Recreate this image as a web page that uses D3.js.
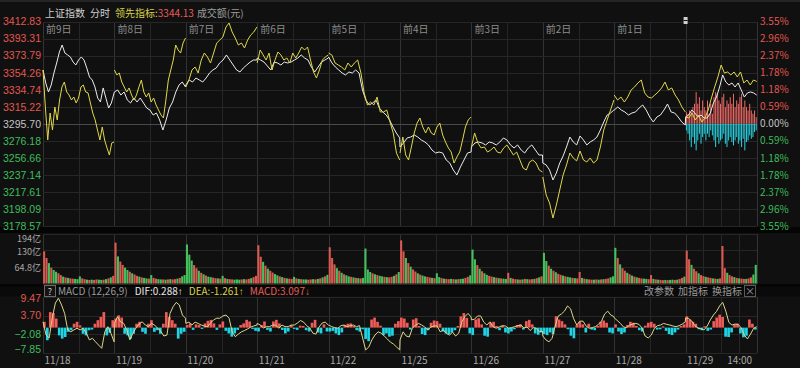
<!DOCTYPE html>
<html>
  <head>
    <meta charset="UTF-8" />
    <script src="https://d3js.org/d3.v7.min.js"></script>
    <style>
      body { margin: 0; background: #0f0f0f; }
      svg text { font-family: "Noto Sans CJK SC", "Noto Sans", sans-serif; }
      .arrow, .num { font-family: "Liberation Sans", "DejaVu Sans", sans-serif; }
    </style>
  </head>
  <body>
    <div id="chart"></div>

    <script>
      // ---- data ----
      const dayDates = ["11/18", "11/19", "11/20", "11/21", "11/22", "11/25", "11/26", "11/27", "11/28", "11/29"];
      const dayTags = ["前9日", "前8日", "前7日", "前6日", "前5日", "前4日", "前3日", "前2日", "前1日"];
      const clockTicks = ["14:00"];
      const prevClose = 3295.7;
      const leadLast = 3344.13;
      const priceTicks = [3412.83, 3393.31, 3373.79, 3354.26, 3334.74, 3315.22, 3295.70, 3276.18, 3256.66, 3237.14, 3217.61, 3198.09, 3178.57];
      const volTicks = [194, 130, 64.8];
      const macdTicks = [9.47, 3.70, -2.08, -7.85];
      const macdInfo = { dif: "0.288", dea: "-1.261", macd: "3.097" };

      // 上证指数 (white line), one array per trading day
      const indexByDay = [
        [3357.3,3342.4,3332.1,3340.1,3353.8,3365.3,3377.9,3385.9,3376.7,3374.5,3372.2,3366.4,3363.0,3368.7,3372.2,3368.7,3359.6,3349.3,3345.8,3337.8,3325.2,3320.6,3336.7,3325.2,3313.7,3319.5,3331.0],
        [3332.1,3334.4,3328.6,3332.1,3322.9,3319.5,3325.2,3320.6,3325.2,3319.5,3313.7,3311.4,3305.7,3308.0,3300.0,3288.5,3300.0,3313.7,3320.6,3332.1,3340.1,3343.5,3337.8],
        [3340.1,3345.8,3343.5,3348.1,3345.8,3343.5,3348.1,3353.8,3357.3,3359.6,3365.3,3368.7,3374.5,3368.7,3363.0,3357.3,3355.0,3359.6,3363.0,3366.4,3368.7,3368.7],
        [3371.0,3368.7,3366.4,3361.9,3357.3,3366.4,3365.3,3363.0,3366.4,3365.3,3366.4,3368.7,3371.0,3374.5,3371.0,3368.7,3360.7,3355.0,3360.7,3366.4,3368.7,3371.0],
        [3372.2,3365.3,3360.7,3357.3,3353.8,3351.6,3355.0,3353.8,3357.3,3353.8,3334.4,3322.9,3317.2,3319.5,3322.9,3313.7,3309.2,3305.7,3300.0,3292.0,3285.1,3279.4],
        [3269.1,3273.7,3279.4,3280.5,3282.8,3280.5,3277.1,3274.8,3271.4,3265.6,3262.2,3263.3,3262.2,3254.2,3250.7,3242.7,3237.0,3246.2,3254.2,3262.2,3263.3],
        [3269.1,3273.7,3274.8,3273.7,3271.4,3274.8,3273.7,3271.4,3274.8,3279.4,3277.1,3271.4,3268.0,3271.4,3265.6,3262.2,3268.0,3271.4,3265.6,3259.9,3259.9],
        [3250.7,3248.5,3242.7,3231.3,3239.3,3250.7,3258.8,3269.1,3280.5,3274.8,3271.4,3281.7,3277.1,3271.4,3274.8,3277.1,3280.5,3288.5,3297.7,3305.7,3308.0,3311.4],
        [3311.4,3314.9,3311.4,3309.2,3305.7,3308.0,3309.2,3313.7,3317.2,3311.4,3303.4,3297.7,3303.4,3305.7,3311.4,3318.3,3309.2,3308.0,3303.4,3297.7,3294.3],
        [3303.4,3305.7,3311.4,3308.0,3303.4,3305.7,3302.3,3302.3,3308.0,3319.5,3326.3,3337.8,3351.6,3343.5,3340.1,3342.4,3337.8,3342.4,3334.4,3326.3,3331.0,3332.1,3331.0,3328.6]
      ];

      // 领先指标 (yellow line), restarts every day
      const leadByDay = [
        [3357.3,3314.9,3277.1,3308.0,3288.5,3314.9,3300.0,3322.9,3337.8,3343.5,3332.1,3328.6,3322.9,3326.3,3319.5,3325.2,3337.8,3340.1,3332.1,3331.0,3319.5,3308.0,3300.0,3288.5,3277.1,3292.0,3277.1,3268.0,3259.9,3273.7,3274.8],
        [3357.3,3351.6,3353.8,3343.5,3337.8,3332.1,3336.7,3328.6,3322.9,3328.6,3337.8,3345.8,3332.1,3326.3,3331.0,3320.6,3325.2,3317.2,3311.4,3305.7,3302.3,3322.9,3345.8,3357.3,3368.7,3385.9,3380.2,3376.7,3388.2,3393.9],
        [3337.8,3345.8,3357.3,3360.7,3353.8,3368.7,3376.7,3372.2,3365.3,3376.7,3388.2,3391.6,3395.1,3406.5,3411.1,3400.8,3393.9,3385.9,3388.2,3382.5,3391.6,3397.4,3400.8,3406.5],
        [3365.3,3380.2,3374.5,3368.7,3376.7,3357.3,3368.7,3377.9,3374.5,3368.7,3371.0,3365.3,3376.7,3371.0,3376.7,3383.6,3380.2,3383.6,3368.7,3355.0,3348.1,3357.3,3368.7,3372.2,3374.5],
        [3376.7,3374.5,3365.3,3363.0,3360.7,3357.3,3365.3,3360.7,3365.3,3368.7,3353.8,3331.0,3317.2,3320.6,3317.2,3326.3,3309.2,3309.2,3311.4,3297.7,3285.1,3262.2,3254.2],
        [3262.2,3280.5,3259.9,3254.2,3269.1,3285.1,3296.5,3302.3,3292.0,3285.1,3292.0,3285.1,3282.8,3292.0,3296.5,3282.8,3274.8,3268.0,3263.3,3250.7,3257.6,3263.3,3277.1,3292.0,3300.0,3303.4],
        [3269.1,3285.1,3273.7,3268.0,3269.1,3263.3,3265.6,3269.1,3263.3,3262.2,3268.0,3271.4,3265.6,3259.9,3263.3,3254.2,3245.0,3242.7,3251.9,3254.2,3250.7,3242.7,3240.4],
        [3234.7,3214.1,3204.9,3187.7,3202.6,3219.8,3237.0,3248.5,3262.2,3256.5,3253.1,3264.5,3254.2,3251.9,3256.5,3250.7,3254.2,3269.1,3288.5,3300.0,3311.4,3322.9],
        [3328.6,3322.9,3326.3,3320.6,3326.3,3334.4,3337.8,3342.4,3345.8,3331.0,3326.3,3325.2,3328.6,3332.1,3336.7,3343.5,3334.4,3336.7,3328.6,3322.9,3314.9,3309.2],
        [3303.4,3302.3,3308.0,3300.0,3305.7,3297.7,3302.3,3311.4,3325.2,3337.8,3349.3,3363.0,3353.8,3355.0,3351.6,3355.0,3349.3,3355.0,3342.4,3345.8,3340.1,3345.8,3344.13]
      ];

      // 成交额 (亿), 30 bars per day, and their colours (r = up, g = down)
      const volumeByDay = [
        [126,100,80,62,53,46,40,33,27,24,22,20,19,18,17,28,20,17,15,14,15,14,16,15,14,15,17,20,24,30],
        [160,106,86,73,62,53,46,40,35,30,27,24,22,20,19,33,22,19,17,16,16,15,16,17,16,17,19,22,28,33],
        [153,113,90,72,60,50,42,36,31,27,25,23,21,20,19,30,21,18,17,16,15,16,15,16,17,16,18,21,25,30],
        [150,105,85,70,58,50,43,37,32,28,25,22,20,19,18,26,20,18,17,16,16,15,16,17,16,18,20,24,28,34],
        [142,100,75,60,50,42,36,32,28,26,24,22,21,20,22,137,55,45,40,36,33,30,28,26,25,24,26,30,36,45],
        [169,126,100,80,66,55,47,40,35,31,28,26,24,22,21,40,25,21,19,18,17,18,17,16,17,18,19,22,26,32],
        [133,95,72,58,48,40,34,30,27,25,23,21,20,19,18,42,22,19,17,16,15,16,18,17,16,17,18,21,24,28],
        [120,88,70,58,50,44,38,34,31,28,26,24,22,21,20,45,22,19,17,16,15,15,16,15,16,17,18,20,24,28],
        [140,100,75,60,50,42,36,31,27,24,22,20,19,18,17,33,18,16,15,14,13,14,13,14,15,14,15,18,22,27],
        [129,95,73,58,48,40,33,29,26,24,22,20,19,18,20,147,60,42,33,28,25,22,20,19,18,18,20,24,35,73]
      ];
      const volumeColorByDay = [
        "rrgrggrrgrgrrgggrrgrgrrggrgrgr",
        "rgrrggrgrrgrggrgrrggrgrgrrgrgg",
        "gggrrgrgrggrrgrgrgrrgggrgrrgrr",
        "rrgrgrrggrgrgrrgrgrggrrgrgrgrg",
        "rrrgrgrggrgrgrggggrgrggrgrrgrg",
        "rrgrgrrgrggrrgrggrgrrgrgrggrrg",
        "ggrgrggrrgrgrggrgrrgrgrgrrgrgr",
        "ggrgrgrrgrggrgrrgrgrrgrgrgrrgg",
        "grgrrgrgrgrrggrrgrgrrgrggrgrrg",
        "rrgrrgrrgrrgrgrrrgrrgrgrrgrrgg"
      ];

      // today's buy / sell strength bars around the 0% line
      const buyForce = [35,30,40,35,50,60,95,60,80,40,70,50,40,70,30,60,30,80,95,90,70,60,80,90,50,70,60,80,60,90,50,70,60,80,90,50,70,50,40,60,40,30,40,20];
      const sellForce = [20,30,50,70,40,60,80,50,30,60,40,30,50,30,40,20,35,50,70,40,60,50,45,30,60,70,50,40,55,65,50,40,60,50,70,45,80,55,50,35,45,40,25,20];

      // MACD (12,26,9): line and histogram, 24 values per day
      const macdLineByDay = [
        [1.8,-2.3,-3.2,3.0,7.6,9.1,7.0,4.4,-0.7,-1.3,-0.7,-0.2,-0.7,-0.2,-1.7,-3.8,-3.3,-4.4,-5.4,-6.4,-1.3,0.3,-1.8,-4.4],
        [1.3,3.4,1.8,1.3,-0.7,-3.8,-1.7,-0.1,1.1,1.8,0.8,0.3,1.3,0.8,-0.2,-1.1,-2.6,-2.3,4.4,6.5,7.8,7.0,3.9,2.9],
        [1.3,1.7,0.8,1.7,1.3,0.8,0.5,0.3,1.4,2.4,2.9,2.9,3.6,3.9,2.9,-1.3,-2.8,-2.0,-1.3,-0.9,-0.4,0.2,0.5,0.8],
        [1.3,0.8,-0.1,0.3,0.3,0.8,0.8,-0.2,0.8,0.3,0.3,0.8,0.8,1.4,2.2,1.7,0.6,-0.1,-1.7,-2.0,0.2,1.4,1.7,0.8],
        [0.8,0.3,0.0,-0.2,0.6,0.8,0.3,0.6,0.8,0.3,0.6,-3.2,-6.9,-6.0,-3.8,-2.3,-1.3,-1.7,-2.6,-3.5,-4.5,-5.1,-6.0,-6.9],
        [-3.8,-1.3,-2.6,-2.9,-0.2,0.8,1.3,0.8,0.2,-0.7,0.2,0.5,0.5,-1.3,-0.7,-1.8,-2.3,-1.4,-2.6,-1.7,1.8,3.4,4.4,3.3],
        [2.4,2.6,3.6,3.6,1.7,0.8,1.8,0.3,-0.2,0.2,0.6,0.5,-0.2,0.0,0.3,0.6,0.8,-0.1,0.2,-0.9,0.0,-0.2,-1.3,-1.1],
        [-2.6,-3.8,-4.4,-3.3,0.5,3.6,4.2,5.1,6.7,5.8,2.7,0.8,2.0,2.0,0.5,-0.2,0.0,0.3,1.0,2.0,4.2,5.1,3.9,3.4],
        [3.0,2.2,1.3,0.2,0.0,0.8,1.1,1.3,1.0,-0.1,-2.6,-3.2,-2.3,-0.2,0.6,0.8,1.3,1.0,0.8,0.5,0.3,0.6,1.1,1.8],
        [3.0,2.8,2.0,0.6,-0.1,-0.4,-0.7,0.5,2.4,3.9,5.0,6.7,7.8,5.1,1.6,0.8,1.1,1.0,-0.1,-2.3,-3.5,-2.0,-0.2,0.288]
      ];
      const macdBarByDay = [
        [1.8,-3.9,4.8,4.5,2.8,-2.4,-3.4,-2.9,-1.3,-0.8,1.2,1.8,0.7,-1.9,-2.4,-0.8,-0.6,1.2,2.3,3.3,4.8,-2.4,-1.6,2.3],
        [2.8,3.8,3.1,-1.9,-2.4,-3.4,-1.9,1.2,1.8,-1.3,-1.9,1.2,2.3,-1.3,-0.8,-1.9,1.2,4.8,3.3,2.3,1.2,-3.4,-1.9,-1.3],
        [0.8,1.3,-0.7,1.0,0.8,-0.4,1.3,2.1,2.4,1.3,-0.7,1.0,1.9,-1.0,-1.8,-2.8,-1.8,-0.7,0.8,1.3,2.4,1.9,-0.4,-1.0],
        [-1.2,0.8,1.9,-0.7,-1.2,1.9,2.4,1.3,-0.7,-1.8,-1.2,0.8,-0.4,-0.7,0.6,0.5,-0.8,-1.2,1.5,2.4,-1.5,-1.8,1.0,-1.2],
        [-1.2,-1.0,-1.8,-2.3,-1.5,0.8,1.2,1.3,0.5,-0.8,-1.2,-0.5,-3.5,-4.2,2.5,3.1,1.8,0.6,-2.3,-1.8,-2.8,-2.5,1.2,2.0],
        [3.1,2.8,1.5,-0.6,2.5,2.9,0.5,-2.0,-2.3,-0.8,1.5,2.2,2.0,1.2,-1.2,-1.8,-2.0,-1.5,-0.8,0.5,3.5,4.5,3.0,-1.8],
        [-2.3,2.5,2.9,1.0,-2.5,-2.8,1.5,1.8,0.5,-0.8,0.6,-1.5,-1.8,-1.2,-0.5,0.8,1.0,-0.6,2.0,2.4,1.0,-1.8,-2.2,-1.5],
        [-2.0,-2.3,-1.5,-2.0,3.5,2.5,2.0,1.0,-0.5,-2.5,-3.3,0.8,1.8,1.0,-1.5,1.2,-0.6,-0.8,0.5,1.8,2.2,1.5,-1.5,-1.8],
        [1.0,-1.2,-2.0,-1.5,0.8,1.8,1.5,0.5,-0.8,-1.2,0.6,1.5,1.8,1.2,-0.6,-0.5,0.4,-1.0,-2.0,-2.3,-1.5,-0.6,0.5,1.0],
        [3.5,2.5,1.8,1.2,-0.5,-0.8,0.4,-1.0,-0.6,2.0,3.1,4.0,3.3,-2.8,-2.9,-1.5,1.0,1.2,-1.8,-3.0,-2.5,2.5,1.2,-0.6]
      ];

      // ---- layout ----
      const W = 800, H = 368;
      const left = 43, right = 757;
      const mainTop = 21.5, mainBot = 226;
      const volTop = 234, volBot = 283.5;
      const macdTop = 297, macdBot = 353;
      const perDay = 240; // trading minutes
      const RED = "#e2574f", GREEN = "#3fbd5c", GRAY = "#c4c4c4", DIM = "#8c8c8c";
      const GRID = "#262626", GRID2 = "#333333";

      function tradeMinute(hhmm) {
        var p = hhmm.split(":").map(Number), t = p[0] * 60 + p[1];
        return t <= 690 ? t - 570 : t - 780 + 120;
      }
      function spread(byDay, gap) {
        var out = [];
        byDay.forEach(function (vals, d) {
          vals.forEach(function (v, i) {
            out.push({ t: d * perDay + (i * (perDay - gap)) / (vals.length - 1), v: v, day: d, i: i });
          });
        });
        return out;
      }
      function slots(byDay) {
        var out = [];
        byDay.forEach(function (vals, d) {
          var step = perDay / vals.length;
          vals.forEach(function (v, i) {
            out.push({ t: d * perDay + (i + 0.5) * step, step: step, v: v, day: d, i: i });
          });
        });
        return out;
      }

      const nDays = dayDates.length;
      const x = d3.scaleLinear().domain([0, nDays * perDay]).range([left, right]);
      const y = d3.scaleLinear().domain([d3.min(priceTicks), d3.max(priceTicks)]).range([mainBot, mainTop]);
      const yVol = d3.scaleLinear().domain([0, volTicks[0]]).range([volBot, volTop]);
      const yMacd = d3.scaleLinear().domain([d3.min(macdTicks), d3.max(macdTicks)]).range([macdBot, macdTop]);
      const force = d3.scaleLinear().domain([0, 100]).range([0, 33.3]);

      const svg = d3.select("#chart").append("svg").attr("width", W).attr("height", H);
      svg.append("rect").attr("width", W).attr("height", H).attr("fill", "#101010");
      // dark separators between the panels
      svg.append("rect").attr("x", 0).attr("y", 227).attr("width", W).attr("height", 6).attr("fill", "#050505");
      svg.append("rect").attr("x", 0).attr("y", 284).attr("width", W).attr("height", 12.5).attr("fill", "#0a0a0a");
      svg.append("rect").attr("x", 0).attr("y", 284).attr("width", W).attr("height", 2.5).attr("fill", "#040404");
      svg.append("line").attr("x1", 0).attr("x2", W).attr("y1", 1).attr("y2", 1).attr("stroke", "#3a3a3a");

      // ---- grid ----
      const grid = svg.append("g").attr("shape-rendering", "crispEdges");
      const vTicks = [];
      for (let d = 0; d <= nDays; d++) vTicks.push({ t: d * perDay, major: true });
      for (let d = 0; d < nDays - 1; d++) vTicks.push({ t: d * perDay + perDay / 2, major: false });
      ["10:30", "11:30", "14:00"].forEach(function (c) {
        vTicks.push({ t: (nDays - 1) * perDay + tradeMinute(c), major: false });
      });
      [[mainTop, mainBot], [volTop, volBot], [macdTop, macdBot]].forEach(function (band) {
        grid.selectAll(null).data(vTicks).join("line")
          .attr("x1", function (d) { return Math.round(x(d.t)) + 0.5; })
          .attr("x2", function (d) { return Math.round(x(d.t)) + 0.5; })
          .attr("y1", band[0]).attr("y2", band[1])
          .attr("stroke", function (d) { return d.major ? GRID2 : GRID; });
      });
      grid.selectAll(null).data(priceTicks).join("line")
        .attr("x1", left).attr("x2", right)
        .attr("y1", function (d) { return Math.round(y(d)) + 0.5; })
        .attr("y2", function (d) { return Math.round(y(d)) + 0.5; })
        .attr("stroke", function (d) { return d === prevClose ? "#4a4a4a" : GRID; });
      grid.selectAll(null).data(volTicks.concat([0])).join("line")
        .attr("x1", left).attr("x2", right)
        .attr("y1", function (d) { return Math.round(yVol(d)) + 0.5; })
        .attr("y2", function (d) { return Math.round(yVol(d)) + 0.5; })
        .attr("stroke", GRID);
      grid.selectAll(null).data(macdTicks).join("line")
        .attr("x1", left).attr("x2", right)
        .attr("y1", function (d) { return Math.round(yMacd(d)) + 0.5; })
        .attr("y2", function (d) { return Math.round(yMacd(d)) + 0.5; })
        .attr("stroke", GRID);

      // ---- axes ----
      function styleAxis(g) {
        g.select(".domain").remove();
        g.selectAll("line").remove();
        g.attr("font-family", null).attr("font-size", null);
        g.selectAll("text").style("font-size", "10px");
      }
      const colorOf = function (d) { return d > prevClose ? RED : d < prevClose ? GREEN : GRAY; };
      svg.append("g").attr("transform", "translate(41,0)")
        .call(d3.axisLeft(y).tickValues(priceTicks).tickFormat(d3.format(".2f")).tickSize(0).tickPadding(0))
        .call(styleAxis)
        .selectAll("text").attr("class", "num").style("font-size", "10.5px").attr("fill", colorOf);
      svg.append("g").attr("transform", "translate(760,0)")
        .call(d3.axisRight(y).tickValues(priceTicks).tickSize(0).tickPadding(0)
          .tickFormat(function (d) { return (Math.abs(d / prevClose - 1) * 100).toFixed(2) + "%"; }))
        .call(styleAxis)
        .selectAll("text").attr("fill", colorOf);
      const volLabelY = [239.5, 252.5, 268];
      svg.append("g").attr("transform", "translate(41,0)")
        .call(d3.axisLeft(yVol).tickValues(volTicks).tickSize(0).tickPadding(0)
          .tickFormat(function (d) { return d + "亿"; }))
        .call(styleAxis)
        .call(function (g) {
          g.selectAll(".tick").attr("transform", function (d, i) { return "translate(0," + Math.max(yVol(d), volLabelY[i]) + ")"; });
          g.selectAll("text").attr("fill", "#a8a8a8").style("font-size", "9px");
        });
      svg.append("g").attr("transform", "translate(41,0)")
        .call(d3.axisLeft(yMacd).tickValues(macdTicks).tickSize(0).tickPadding(0).tickFormat(d3.format(".2f")))
        .call(styleAxis)
        .call(function (g) {
          g.selectAll(".tick").attr("transform", function (d) {
            return "translate(0," + Math.min(Math.max(yMacd(d), macdTop + 2), macdBot - 3.5) + ")";
          });
          g.selectAll("text").attr("class", "num").style("font-size", "10.5px")
            .attr("fill", function (d) { return d > 0 ? RED : GREEN; });
        });

      const timeTicks = dayDates.map(function (d, i) { return i * perDay; })
        .concat(clockTicks.map(function (c) { return (nDays - 1) * perDay + tradeMinute(c); }));
      svg.append("g").attr("transform", "translate(0,356)")
        .call(d3.axisBottom(x).tickValues(timeTicks).tickSize(0).tickPadding(0)
          .tickFormat(function (t, i) { return i < nDays ? dayDates[i] : clockTicks[i - nDays]; }))
        .call(styleAxis)
        .call(function (g) {
          g.selectAll("text").attr("fill", "#a8a8a8").attr("dy", "0.75em")
            .attr("text-anchor", function (t, i) { return i < nDays ? "start" : "middle"; })
            .attr("x", function (t, i) { return i < nDays ? 1 : 0; });
        });

      // day tags inside the main panel
      svg.append("g").selectAll("text").data(dayTags).join("text")
        .attr("x", function (d, i) { return x(i * perDay) + 3; })
        .attr("y", 33)
        .attr("fill", DIM).style("font-size", "10px")
        .text(function (d) { return d; });

      // ---- today's strength bars ----
      const today = (nDays - 1) * perDay;
      const base = y(prevClose);
      const fStep = perDay / buyForce.length;
      svg.append("g").selectAll("rect").data(buyForce).join("rect")
        .attr("x", function (d, i) { return x(today + (i + 0.5) * fStep) - 0.5; })
        .attr("width", 1)
        .attr("y", function (d) { return base - force(d); })
        .attr("height", function (d) { return force(d); })
        .attr("fill", "#f06a66");
      svg.append("g").selectAll("rect").data(sellForce).join("rect")
        .attr("x", function (d, i) { return x(today + (i + 0.5) * fStep) - 0.5; })
        .attr("width", 1)
        .attr("y", base)
        .attr("height", function (d) { return force(d); })
        .attr("fill", "#2ad2e2");

      // ---- price lines ----
      const line = d3.line().x(function (d) { return x(d.t); }).y(function (d) { return y(d.v); });
      svg.append("path").datum(spread(indexByDay, 1))
        .attr("fill", "none").attr("stroke", "#ececec").attr("stroke-width", 1).attr("d", line);
      const leadPts = spread(leadByDay, 1);
      svg.append("g").selectAll("path").data(d3.groups(leadPts, function (d) { return d.day; })).join("path")
        .attr("fill", "none").attr("stroke", "#e0d84a").attr("stroke-width", 1)
        .attr("d", function (g) { return line(g[1]); });

      // today marker at the top of the current day
      svg.append("rect").attr("x", x(today) - 2).attr("y", 17).attr("width", 4).attr("height", 7)
        .attr("fill", "#d0d0d0");
      svg.append("line").attr("x1", x(today) - 2).attr("x2", x(today) + 2).attr("y1", 20.5).attr("y2", 20.5)
        .attr("stroke", "#101010");

      // ---- volume ----
      const volPts = slots(volumeByDay);
      svg.append("g").selectAll("rect").data(volPts).join("rect")
        .attr("x", function (d) { return x(d.t - d.step / 2) + 0.1; })
        .attr("width", function (d) { return Math.max(0.8, x(d.step) - x(0) - 0.3); })
        .attr("y", function (d) { return yVol(d.v); })
        .attr("height", function (d) { return volBot - yVol(d.v); })
        .attr("fill", function (d) { return volumeColorByDay[d.day][d.i] === "r" ? "#d85a50" : "#46c05c"; });

      // ---- MACD ----
      const barPts = slots(macdBarByDay);
      const zero = yMacd(0);
      svg.append("g").selectAll("rect").data(barPts).join("rect")
        .attr("x", function (d) { return x(d.t - d.step / 2); })
        .attr("width", function (d) { return x(d.step) - x(0) - 0.3; })
        .attr("y", function (d) { return d.v > 0 ? yMacd(d.v) : zero; })
        .attr("height", function (d) { return Math.abs(yMacd(d.v) - zero); })
        .attr("fill", function (d) { return d.v > 0 ? "#ee5b58" : "#1fd4e4"; });
      const mline = d3.line().x(function (d) { return x(d.t); }).y(function (d) { return yMacd(d.v); });
      svg.append("path").datum(spread(macdLineByDay, 1))
        .attr("fill", "none").attr("stroke", "#dcd68a").attr("stroke-width", 1).attr("d", mline);

      // ---- header texts ----
      const head = svg.append("text").attr("x", 45).attr("y", 16.5).style("font-size", "10px");
      head.append("tspan").attr("fill", "#cfcfcf").text("上证指数");
      head.append("tspan").attr("dx", 5).attr("fill", "#cfcfcf").text("分时");
      head.append("tspan").attr("dx", 5).attr("fill", "#d9d04a").text("领先指标:");
      head.append("tspan").attr("fill", "#e85d58").text(leadLast.toFixed(2));
      head.append("tspan").attr("dx", 3).attr("fill", "#9c9c9c").text("成交额(元)");

      svg.append("rect").attr("x", 44.5).attr("y", 285.5).attr("width", 11).attr("height", 11)
        .attr("fill", "#141414").attr("stroke", "#6a6a6a");
      svg.append("text").attr("x", 50).attr("y", 294.5).attr("text-anchor", "middle")
        .attr("fill", "#d0d0d0").style("font-size", "9px").text("?");
      const mh = svg.append("text").attr("x", 58).attr("y", 295).style("font-size", "10px");
      mh.append("tspan").attr("fill", "#9a9a9a").text("MACD (12,26,9)");
      mh.append("tspan").attr("dx", 7).attr("fill", "#e6e6e6").text("DIF:" + macdInfo.dif);
      mh.append("tspan").attr("class", "arrow").attr("fill", "#e6e6e6").text("↑");
      mh.append("tspan").attr("dx", 6).attr("fill", "#d9d04a").text("DEA:" + macdInfo.dea);
      mh.append("tspan").attr("class", "arrow").attr("fill", "#d9d04a").text("↑");
      mh.append("tspan").attr("dx", 6).attr("fill", "#e85d58").text("MACD:" + macdInfo.macd);
      mh.append("tspan").attr("class", "arrow").attr("fill", "#e85d58").text("↓");

      svg.append("g").selectAll("text").data(["改参数", "加指标", "换指标"]).join("text")
        .attr("x", function (d, i) { return 644 + i * 34; })
        .attr("y", 295).attr("fill", "#9a9a9a").style("font-size", "10px")
        .text(function (d) { return d; });
      svg.append("rect").attr("x", 744.5).attr("y", 285.5).attr("width", 11).attr("height", 11)
        .attr("fill", "none").attr("stroke", "#5a5a5a");
      svg.append("text").attr("x", 750).attr("y", 294.5).attr("text-anchor", "middle")
        .attr("fill", "#9a9a9a").style("font-size", "10px").text("×");
    </script>
  </body>
</html>
